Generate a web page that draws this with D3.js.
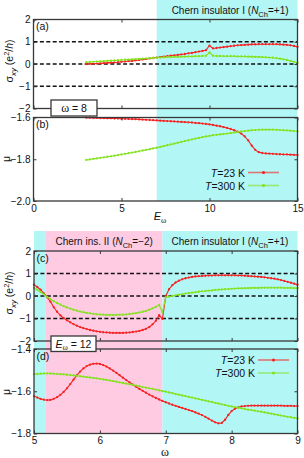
<!DOCTYPE html>
<html>
<head>
<meta charset="utf-8">
<script src="https://cdn.jsdelivr.net/npm/d3@7/dist/d3.min.js"></script>
<style>
  body { margin: 0; background: #fff; }
  svg { display: block; font-family: "Liberation Sans", Arial, Helvetica, sans-serif; }
</style>
</head>
<body>
<div id="app"></div>
<script>
// ---- data ----
// upper block: sweep of E_omega at omega = 8
const E_OMEGA = [3.0,3.2,3.4,3.6,3.8,4.0,4.2,4.4,4.6,4.8,5.0,5.2,5.4,5.6,5.8,6.0,6.2,6.4,6.6,6.8,
  7.0,7.2,7.4,7.6,7.8,8.0,8.2,8.4,8.6,8.8,9.0,9.2,9.4,9.6,9.8,10.0,10.2,10.4,10.6,10.8,
  11.0,11.2,11.4,11.6,11.8,12.0,12.2,12.4,12.6,12.8,13.0,13.2,13.4,13.6,13.8,14.0,14.2,14.4,14.6,14.8,15.0];

const SIGMA_E_23K = [0.00,0.01,0.01,0.02,0.03,0.04,0.05,0.06,0.07,0.08,0.10,0.11,0.13,0.14,0.16,0.18,0.20,0.22,0.25,0.27,
  0.29,0.31,0.33,0.35,0.37,0.39,0.41,0.43,0.45,0.48,0.50,0.53,0.56,0.59,0.62,0.83,0.70,0.72,0.74,0.76,
  0.78,0.80,0.82,0.84,0.85,0.86,0.87,0.88,0.88,0.89,0.89,0.89,0.89,0.89,0.89,0.88,0.87,0.86,0.84,0.81,0.77];
const SIGMA_E_300K = [0.08,0.09,0.10,0.11,0.12,0.13,0.14,0.15,0.16,0.17,0.18,0.19,0.20,0.21,0.22,0.23,0.24,0.25,0.26,0.27,
  0.28,0.29,0.30,0.31,0.31,0.32,0.32,0.33,0.33,0.34,0.34,0.35,0.35,0.36,0.37,0.52,0.37,0.36,0.36,0.35,
  0.35,0.35,0.35,0.34,0.34,0.34,0.33,0.33,0.32,0.32,0.31,0.30,0.29,0.28,0.26,0.24,0.21,0.18,0.14,0.10,0.06];

const MU_E_23K = [-1.601,-1.601,-1.602,-1.602,-1.603,-1.603,-1.604,-1.604,-1.605,-1.605,-1.606,-1.606,-1.607,-1.608,-1.608,-1.609,-1.610,-1.611,-1.612,-1.613,
  -1.614,-1.615,-1.616,-1.617,-1.618,-1.619,-1.620,-1.621,-1.622,-1.623,-1.624,-1.626,-1.627,-1.629,-1.631,-1.633,-1.636,-1.639,-1.642,-1.646,
  -1.650,-1.655,-1.661,-1.668,-1.677,-1.690,-1.710,-1.735,-1.755,-1.766,-1.770,-1.772,-1.773,-1.774,-1.775,-1.776,-1.777,-1.777,-1.778,-1.779,-1.780];
const MU_E_300K = [-1.803,-1.801,-1.798,-1.796,-1.793,-1.791,-1.788,-1.786,-1.783,-1.780,-1.777,-1.774,-1.771,-1.768,-1.765,-1.762,-1.758,-1.755,-1.752,-1.748,
  -1.745,-1.741,-1.737,-1.733,-1.729,-1.725,-1.721,-1.717,-1.713,-1.709,-1.705,-1.701,-1.698,-1.694,-1.691,-1.688,-1.685,-1.683,-1.681,-1.679,
  -1.677,-1.675,-1.672,-1.670,-1.667,-1.665,-1.663,-1.661,-1.660,-1.659,-1.658,-1.658,-1.658,-1.658,-1.659,-1.660,-1.661,-1.662,-1.663,-1.665,-1.666];

// lower block: sweep of omega at E_omega = 12
const OMEGA = [5.00,5.05,5.10,5.15,5.20,5.25,5.30,5.35,5.40,5.45,5.50,5.55,5.60,5.65,5.70,5.75,5.80,5.85,5.90,5.95,
  6.00,6.05,6.10,6.15,6.20,6.25,6.30,6.35,6.40,6.45,6.50,6.55,6.60,6.65,6.70,6.75,6.80,6.85,6.90,6.95,
  7.00,7.05,7.10,7.15,7.20,7.25,7.30,7.35,7.40,7.45,7.50,7.55,7.60,7.65,7.70,7.75,7.80,7.85,7.90,7.95,
  8.00,8.05,8.10,8.15,8.20,8.25,8.30,8.35,8.40,8.45,8.50,8.55,8.60,8.65,8.70,8.75,8.80,8.85,8.90,8.95,9.00];

const SIGMA_W_23K = [0.50,0.40,0.28,0.12,-0.05,-0.25,-0.50,-0.70,-0.86,-0.98,-1.08,-1.17,-1.25,-1.32,-1.38,-1.43,-1.47,-1.51,-1.54,-1.57,
  -1.59,-1.61,-1.62,-1.63,-1.64,-1.64,-1.64,-1.64,-1.63,-1.62,-1.60,-1.58,-1.55,-1.51,-1.46,-1.38,-1.26,-1.10,-0.85,-1.02,
  0.00,0.30,0.48,0.60,0.68,0.74,0.79,0.82,0.85,0.87,0.88,0.89,0.90,0.91,0.91,0.92,0.92,0.92,0.92,0.92,
  0.92,0.92,0.91,0.91,0.90,0.89,0.88,0.87,0.86,0.85,0.83,0.81,0.79,0.77,0.74,0.71,0.67,0.63,0.59,0.55,0.50];
const SIGMA_W_300K = [0.36,0.28,0.18,0.07,-0.04,-0.14,-0.23,-0.31,-0.38,-0.45,-0.51,-0.56,-0.61,-0.65,-0.69,-0.72,-0.75,-0.77,-0.79,-0.81,
  -0.82,-0.83,-0.84,-0.84,-0.84,-0.84,-0.83,-0.83,-0.82,-0.80,-0.78,-0.76,-0.73,-0.70,-0.66,-0.61,-0.55,-0.48,-0.40,-0.72,
  -0.06,-0.03,0.00,0.03,0.06,0.08,0.11,0.13,0.15,0.17,0.19,0.21,0.22,0.24,0.25,0.27,0.28,0.29,0.30,0.31,
  0.32,0.33,0.34,0.34,0.35,0.35,0.36,0.36,0.36,0.37,0.37,0.37,0.37,0.37,0.37,0.37,0.36,0.36,0.36,0.35,0.35];

const MU_W_23K = [-1.623,-1.630,-1.636,-1.640,-1.642,-1.641,-1.636,-1.628,-1.617,-1.603,-1.586,-1.566,-1.545,-1.525,-1.507,-1.492,-1.481,-1.474,-1.470,-1.469,
  -1.471,-1.476,-1.483,-1.492,-1.502,-1.513,-1.524,-1.536,-1.547,-1.558,-1.569,-1.579,-1.589,-1.598,-1.607,-1.616,-1.624,-1.632,-1.639,-1.646,
  -1.652,-1.658,-1.664,-1.669,-1.674,-1.679,-1.684,-1.689,-1.694,-1.700,-1.706,-1.713,-1.721,-1.730,-1.739,-1.747,-1.752,-1.750,-1.735,-1.712,
  -1.694,-1.683,-1.676,-1.672,-1.670,-1.669,-1.668,-1.668,-1.668,-1.668,-1.668,-1.668,-1.668,-1.668,-1.668,-1.668,-1.669,-1.669,-1.669,-1.670,-1.670];
const MU_W_300K = [-1.519,-1.518,-1.517,-1.516,-1.516,-1.516,-1.517,-1.518,-1.519,-1.520,-1.522,-1.523,-1.525,-1.527,-1.529,-1.531,-1.533,-1.535,-1.537,-1.539,
  -1.541,-1.544,-1.546,-1.549,-1.552,-1.555,-1.558,-1.561,-1.564,-1.567,-1.570,-1.573,-1.576,-1.580,-1.583,-1.586,-1.589,-1.592,-1.596,-1.599,
  -1.602,-1.606,-1.609,-1.613,-1.616,-1.620,-1.623,-1.627,-1.630,-1.634,-1.637,-1.641,-1.644,-1.648,-1.651,-1.655,-1.658,-1.662,-1.665,-1.669,
  -1.672,-1.675,-1.678,-1.681,-1.684,-1.687,-1.689,-1.692,-1.695,-1.697,-1.700,-1.703,-1.706,-1.709,-1.712,-1.715,-1.718,-1.721,-1.723,-1.726,-1.729];

const TEMPS = ['23 K', '300 K'];
const E_TICKS = [0, 5, 10, 15];
const W_TICKS = [5, 6, 7, 8, 9];
const SIGMA_TICKS = [-2, -1, 0, 1, 2];
const SIGMA_DASHED = [-1, 0, 1];
const MU_E_TICKS = [-2.0, -1.8, -1.6];
const MU_W_TICKS = [-1.8, -1.6, -1.4];
// phase regions [from, to, phase]
const PHASES_E = [[7, 15, 'I']];
const PHASES_W = [[5, 5.18, 'I'], [5.18, 6.95, 'II'], [6.95, 9, 'I']];
const PHASE_LABELS_W = [[5.18, 6.95, 'II'], [6.95, 9, 'I']];

// ---- drawing ----
const W = 304, H = 458;
const COLORS = {'23 K': '#f52222', '300 K': '#84e21e'};
const PHASE_FILL = {I: '#b3f6f6', II: '#fecbe3'};
const FRAME = '#383838';

const svg = d3.select('#app').append('svg').attr('width', W).attr('height', H);
svg.append('rect').attr('width', W).attr('height', H).attr('fill', '#fff');

const xE = d3.scaleLinear().domain([0, 15]).range([33.5, 297.5]);
const xW = d3.scaleLinear().domain([5, 9]).range([34, 297.5]);

// phase bands span the label strip and both panels of a block
function bands(x, phases, top, bottom) {
  svg.append('g').selectAll('rect').data(phases).enter().append('rect')
    .attr('x', d => x(d[0])).attr('width', d => x(d[1]) - x(d[0]))
    .attr('y', top).attr('height', bottom - top)
    .attr('fill', d => PHASE_FILL[d[2]]);
}
bands(xE, PHASES_E, 0, 201);
bands(xW, PHASES_W, 231, 433.5);

function chernLabel(cx, baseline, phase) {
  const t = svg.append('text').attr('x', cx).attr('y', baseline)
    .attr('text-anchor', 'middle').attr('font-size', 10).attr('fill', '#111');
  t.append('tspan').text(phase === 'I' ? 'Chern insulator I (' : 'Chern ins. II (');
  t.append('tspan').attr('font-style', 'italic').text('N');
  t.append('tspan').attr('font-size', 7.5).attr('dy', 2.5).text('Ch');
  t.append('tspan').attr('dy', -2.5).text(phase === 'I' ? '=+1)' : '=\u22122)');
}
chernLabel((xE(PHASES_E[0][0]) + xE(PHASES_E[0][1])) / 2 + 3, 14, 'I');
PHASE_LABELS_W.forEach(d => chernLabel((xW(d[0]) + xW(d[1])) / 2, 245, d[2]));

function panel(p) {
  const y = d3.scaleLinear().domain(p.yDomain).range([p.bottom, p.top]);
  const g = svg.append('g');

  if (p.dashed) {
    g.selectAll('line.dash').data(p.dashed).enter().append('line')
      .attr('x1', p.x.range()[0]).attr('x2', p.x.range()[1])
      .attr('y1', d => y(d)).attr('y2', d => y(d))
      .attr('stroke', '#111').attr('stroke-width', 1.5).attr('stroke-dasharray', '4,2.4');
  }

  const line = d3.line().x(d => p.x(d[0])).y(d => y(d[1]));
  p.series.forEach(s => {
    const pts = p.xs.map((v, i) => [v, s.values[i]]);
    g.append('path').datum(pts).attr('d', line)
      .attr('fill', 'none').attr('stroke', COLORS[s.temp]).attr('stroke-width', 1.1);
    g.append('g').selectAll('circle').data(pts).enter().append('circle')
      .attr('cx', d => p.x(d[0])).attr('cy', d => y(d[1])).attr('r', 1.15)
      .attr('fill', COLORS[s.temp]);
  });

  // inward ticks on all four sides
  const [x0, x1] = p.x.range();
  g.append('g').attr('transform', `translate(${x0},0)`)
    .call(d3.axisLeft(y).tickValues(p.yTicks).tickSize(-3).tickPadding(3).tickFormat(p.yFmt));
  g.append('g').attr('transform', `translate(${x1},0)`)
    .call(d3.axisRight(y).tickValues(p.yTicks).tickSize(-3).tickFormat(''));
  g.append('g').attr('transform', `translate(0,${p.bottom})`)
    .call(d3.axisBottom(p.x).tickValues(p.xTicks).tickSize(-3).tickPadding(3.5)
      .tickFormat(p.xLabels ? d3.format('d') : ''));
  g.append('g').attr('transform', `translate(0,${p.top})`)
    .call(d3.axisTop(p.x).tickValues(p.xTicks).tickSize(-3).tickFormat(''));
  g.selectAll('.domain').remove();
  g.selectAll('.tick line').attr('stroke', FRAME).attr('stroke-width', 1);
  g.selectAll('.tick text').attr('font-size', 10).attr('fill', '#111')
    .attr('font-family', '"Liberation Sans", Arial, sans-serif');

  g.append('rect').attr('x', x0).attr('y', p.top)
    .attr('width', x1 - x0).attr('height', p.bottom - p.top)
    .attr('fill', 'none').attr('stroke', FRAME).attr('stroke-width', 1.3);

  g.append('text').attr('x', x0 + 2.5).attr('y', p.top + 10.5)
    .attr('font-size', 10.5).attr('fill', '#111').text(p.tag);

  if (p.legend) {
    const lg = g.append('g');
    p.series.forEach((s, i) => {
      const yy = p.legend.y + i * 13;
      const t = lg.append('text').attr('x', p.legend.x - 3).attr('y', yy + 4)
        .attr('text-anchor', 'end').attr('font-size', 10.5).attr('fill', '#111');
      t.append('tspan').attr('font-style', 'italic').text('T');
      t.append('tspan').text('=' + s.temp);
      lg.append('line').attr('x1', p.legend.x).attr('x2', p.legend.x + 31)
        .attr('y1', yy).attr('y2', yy)
        .attr('stroke', COLORS[s.temp]).attr('stroke-opacity', 0.6).attr('stroke-width', 1.6);
      lg.append('circle').attr('cx', p.legend.x + 15.5).attr('cy', yy).attr('r', 1.6)
        .attr('fill', COLORS[s.temp]);
    });
  }
  return y;
}

panel({x: xE, xs: E_OMEGA, top: 19.5, bottom: 108.5, yDomain: [-2, 2], yTicks: SIGMA_TICKS,
  yFmt: d3.format('d'), xTicks: E_TICKS, xLabels: false, dashed: SIGMA_DASHED, tag: '(a)',
  series: [{temp: TEMPS[0], values: SIGMA_E_23K}, {temp: TEMPS[1], values: SIGMA_E_300K}]});
panel({x: xE, xs: E_OMEGA, top: 117.5, bottom: 201, yDomain: [-2.0, -1.6], yTicks: MU_E_TICKS,
  yFmt: d3.format('.1f'), xTicks: E_TICKS, xLabels: true, tag: '(b)', legend: {x: 248, y: 172.5},
  series: [{temp: TEMPS[0], values: MU_E_23K}, {temp: TEMPS[1], values: MU_E_300K}]});
panel({x: xW, xs: OMEGA, top: 251, bottom: 341, yDomain: [-2, 2], yTicks: SIGMA_TICKS,
  yFmt: d3.format('d'), xTicks: W_TICKS, xLabels: false, dashed: SIGMA_DASHED, tag: '(c)',
  series: [{temp: TEMPS[0], values: SIGMA_W_23K}, {temp: TEMPS[1], values: SIGMA_W_300K}]});
panel({x: xW, xs: OMEGA, top: 349, bottom: 433.5, yDomain: [-1.8, -1.4], yTicks: MU_W_TICKS,
  yFmt: d3.format('.1f'), xTicks: W_TICKS, xLabels: true, tag: '(d)', legend: {x: 258, y: 360},
  series: [{temp: TEMPS[0], values: MU_W_23K}, {temp: TEMPS[1], values: MU_W_300K}]});

// parameter boxes
function paramBox(x, y, w, h, build) {
  svg.append('rect').attr('x', x).attr('y', y).attr('width', w).attr('height', h)
    .attr('fill', '#fff').attr('stroke', FRAME).attr('stroke-width', 1.3);
  const t = svg.append('text').attr('x', x + w / 2).attr('y', y + h - 4)
    .attr('text-anchor', 'middle').attr('font-size', 10.5).attr('fill', '#111');
  build(t);
}
paramBox(51, 100, 46, 16, t => {
  t.append('tspan').attr('font-family', '"Liberation Serif", "Times New Roman", serif').attr('font-size', 12).text('\u03c9');
  t.append('tspan').text(' = 8');
});
paramBox(51, 336, 45, 15.5, t => {
  t.append('tspan').attr('font-style', 'italic').text('E');
  t.append('tspan').attr('font-family', '"Liberation Serif", serif').attr('font-size', 8).attr('dy', 2.5).text('\u03c9');
  t.append('tspan').attr('dy', -2.5).text(' = 12');
});

// axis titles
function sigmaTitle(cx, cy) {
  const t = svg.append('text').attr('transform', `translate(${cx},${cy}) rotate(-90)`)
    .attr('text-anchor', 'middle').attr('font-size', 10.5).attr('fill', '#111');
  t.append('tspan').text('\u03c3');
  t.append('tspan').attr('font-style', 'italic').attr('font-size', 8).attr('dy', 2.5).text('xy');
  t.append('tspan').attr('dy', -2.5).text(' (e');
  t.append('tspan').attr('font-size', 7.5).attr('dy', -4).text('2');
  t.append('tspan').attr('dy', 4).text('/');
  t.append('tspan').attr('font-style', 'italic').text('h');
  t.append('tspan').text(')');
}
sigmaTitle(13, 61);
sigmaTitle(13, 293);

function muTitle(cx, cy) {
  svg.append('text').attr('transform', `translate(${cx},${cy}) rotate(-90)`)
    .attr('text-anchor', 'middle').attr('font-size', 10.5).attr('fill', '#111').text('\u03bc');
}
muTitle(10, 159);
muTitle(10, 392);

const xt1 = svg.append('text').attr('x', 160).attr('y', 220).attr('text-anchor', 'middle')
  .attr('font-size', 11).attr('fill', '#111');
xt1.append('tspan').attr('font-style', 'italic').text('E');
xt1.append('tspan').attr('font-family', '"Liberation Serif", serif').attr('font-size', 8).attr('dy', 2.5).text('\u03c9');

svg.append('text').attr('x', 165).attr('y', 455.5).attr('text-anchor', 'middle')
  .attr('font-family', '"Liberation Serif", "Times New Roman", serif')
  .attr('font-size', 12).attr('fill', '#111').text('\u03c9');
</script>
</body>
</html>
